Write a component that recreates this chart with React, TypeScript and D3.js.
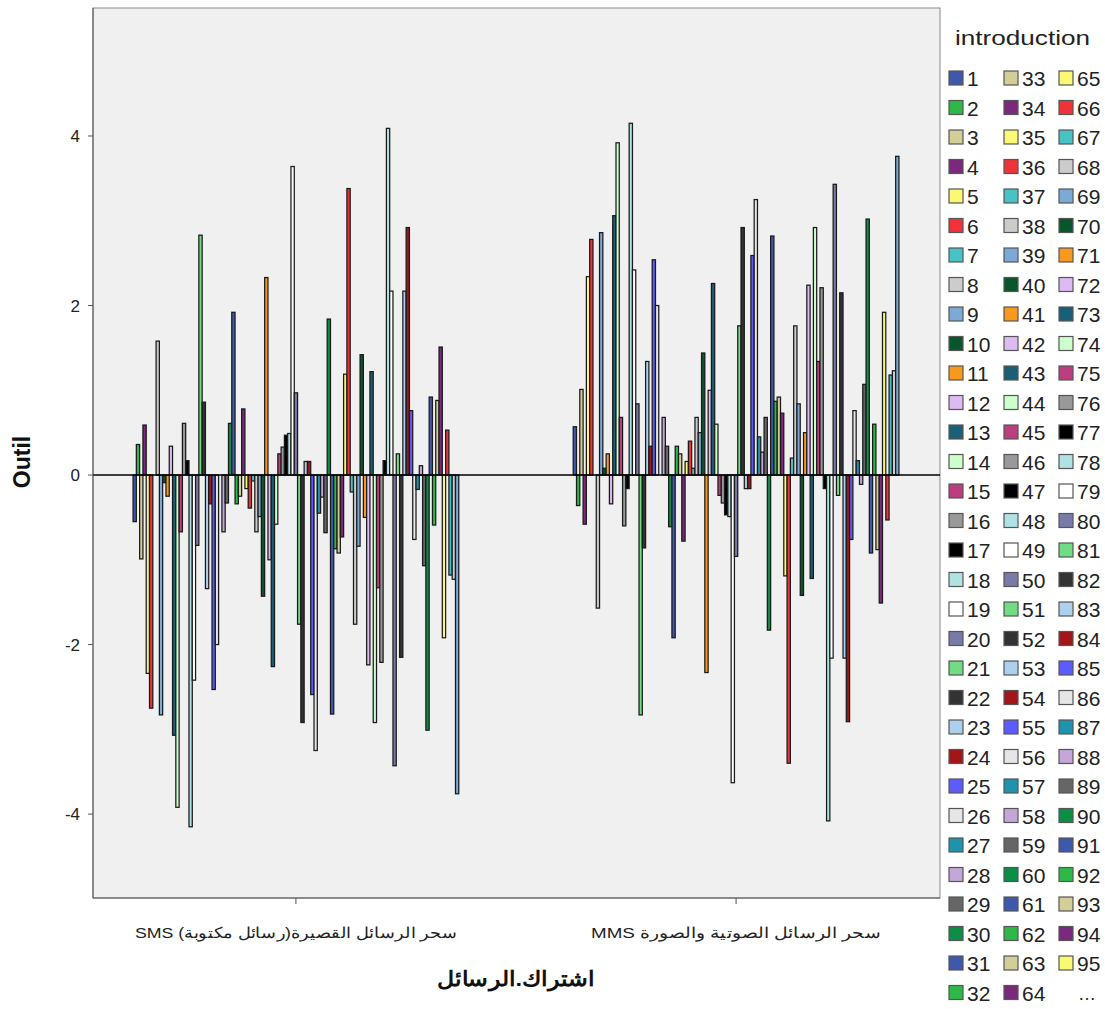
import React from "react";
import * as d3 from "d3";

const categories = [
  "سحر الرسائل القصيرة(رسائل مكتوبة) SMS",
  "سحر الرسائل الصوتية والصورة MMS",
];

const seriesIds = d3.range(1, 100).map(String);

const smsValues = [
  -0.55, 0.36, -0.99, 0.59, -2.34, -2.75, 0, 1.58, -2.83, -0.09,
  -0.25, 0.34, -3.07, -3.92, -0.67, 0.61, 0.17, -4.15, -2.42, -0.83,
  2.83, 0.86, -1.34, -0.34, -2.53, -2.0, 0, -0.67, -0.33, 0.61,
  1.92, -0.34, -0.25, 0.78, -0.16, -0.39, -0.07, -0.67, -0.49, -1.43,
  2.33, -1.0, -2.26, -0.58, 0.25, 0.33, 0.47, 0.49, 3.64, 0.97,
  -1.76, -2.92, 0.16, 0.16, -2.59, -3.25, -0.45, -0.26, -0.68, 1.84,
  -2.82, -0.87, -0.92, -0.73, 1.19, 3.38, -0.2, -1.76, -0.84, 1.42,
  -0.5, -2.24, 1.22, -2.92, -1.33, -2.21, 0.17, 4.09, 2.17, -3.43,
  0.25, -2.15, 2.17, 2.92, 0.76, -0.76, -0.17, 0.11, -1.07, -3.01,
  0.92, -0.59, 0.88, 1.51, -1.92, 0.53, -1.18, -1.23, -3.76,
];

const mmsValues = [
  0.57, -0.36, 1.01, -0.58, 2.34, 2.78, 0, -1.57, 2.86, 0.08,
  0.25, -0.34, 3.06, 3.92, 0.68, -0.6, -0.16, 4.15, 2.42, 0.84,
  -2.83, -0.86, 1.34, 0.34, 2.54, 2.0, 0, 0.68, 0.34, -0.61,
  -1.92, 0.34, 0.25, -0.78, 0.16, 0.4, 0.08, 0.68, 0.5, 1.44,
  -2.33, 1.0, 2.26, 0.6, -0.24, -0.33, -0.47, -0.49, -3.63, -0.96,
  1.76, 2.92, -0.16, -0.16, 2.59, 3.25, 0.45, 0.27, 0.68, -1.83,
  2.82, 0.87, 0.92, 0.73, -1.19, -3.4, 0.2, 1.76, 0.84, -1.42,
  0.5, 2.24, -1.22, 2.92, 1.34, 2.21, -0.16, -4.08, -2.16, 3.43,
  -0.24, 2.15, -2.16, -2.91, -0.76, 0.76, 0.17, -0.11, 1.07, 3.02,
  -0.92, 0.6, -0.88, -1.51, 1.92, -0.53, 1.18, 1.23, 3.76,
];

const palette = [
  "#3e58ac", "#2eb848", "#d3ce97", "#7c287d", "#fbf873", "#ef3338",
  "#48c2c5", "#cccccc", "#7aaad5", "#0a562c", "#f8981d", "#ddbaf1",
  "#1a5f76", "#ccffcc", "#bb3f7f", "#999999", "#000000", "#b0e2e4",
  "#ffffff", "#797aa7", "#70dc84", "#333333", "#acd0ee", "#a21619",
  "#5b5bff", "#e6e6e6", "#1f92ad", "#c4a7d8", "#666666", "#0c8e47",
];

const yTicks = [-4, -2, 0, 2, 4];
const legendTitle = "introduction";
const yTitle = "Outil";
const xTitle = "اشتراك.الرسائل";
const legendShown = d3.range(1, 96).map(String);

const W = 1105;
const H = 1009;
const M = { left: 93, right: 940, top: 8, bottom: 898 };
const FONT = "'Liberation Sans', Arial, sans-serif";
const catLabelWidths = [322, 290];

export default function App() {
  const data = [smsValues, mmsValues];
  const x = d3
    .scaleBand<string>()
    .domain(categories)
    .range([M.left, M.right - 1])
    .paddingInner(0.26)
    .paddingOuter(0.091);
  const xi = d3
    .scaleBand<string>()
    .domain(seriesIds)
    .range([0, x.bandwidth()])
    .padding(0);
  const y = d3.scaleLinear().domain([-4.99, 5.51]).range([M.bottom, M.top]);
  const color = (i: number) => palette[i % palette.length];

  const rowY = (r: number) => 78 + 29.5 * r;
  const colX = [948, 1003, 1058];

  return (
    <svg
      width={W}
      height={H}
      style={{ position: "absolute", left: 0, top: 0, background: "#fff" }}
      fontFamily={FONT}
    >
      <rect x={M.left} y={M.top} width={M.right - M.left} height={M.bottom - M.top} fill="#f0f0f0" stroke="#8a8a8a" strokeWidth={1} />
      {data.map((vals, ci) =>
        vals.map((v, si) => {
          const x0 = (x(categories[ci]) as number) + (xi(seriesIds[si]) as number);
          const y0 = y(Math.max(0, v));
          const h = Math.abs(y(v) - y(0));
          if (h < 0.01) return null;
          return (
            <rect
              key={ci + "-" + si}
              x={x0}
              y={y0}
              width={xi.bandwidth()}
              height={h}
              fill={color(si)}
              stroke="#1a1a1a"
              strokeWidth={1.25}
            />
          );
        })
      )}
      <line x1={M.left} x2={M.right} y1={y(0)} y2={y(0)} stroke="#000" strokeWidth={1.6} />
      <line x1={M.left} x2={M.left} y1={M.top} y2={M.bottom} stroke="#555" strokeWidth={1} />
      <line x1={M.left} x2={M.right} y1={M.bottom} y2={M.bottom} stroke="#555" strokeWidth={1} />
      {yTicks.map((t) => (
        <g key={t}>
          <line x1={M.left - 5} x2={M.left} y1={y(t)} y2={y(t)} stroke="#555" />
          <text x={M.left - 13} y={y(t) + 6} textAnchor="end" fontSize={17} fill="#222">
            {t}
          </text>
        </g>
      ))}
      {categories.map((c, i) => {
        const cx = (x(c) as number) + x.bandwidth() / 2;
        return (
          <g key={c}>
            <line x1={cx} x2={cx} y1={M.bottom} y2={M.bottom + 6} stroke="#555" />
            <text
              x={cx}
              y={938}
              textAnchor="middle"
              fontSize={15}
              fill="#222"
              direction="rtl"
              textLength={catLabelWidths[i]}
              lengthAdjust="spacingAndGlyphs"
            >
              {c}
            </text>
          </g>
        );
      })}
      <text
        transform={`translate(30, 462) rotate(-90)`}
        textAnchor="middle"
        fontSize={23}
        fontWeight="bold"
        fill="#111"
      >
        {yTitle}
      </text>
      <text
        x={516}
        y={986}
        textAnchor="middle"
        fontSize={21}
        fontWeight="bold"
        fill="#111"
        direction="rtl"
        textLength={158}
        lengthAdjust="spacingAndGlyphs"
      >
        {xTitle}
      </text>
      <text x={955} y={45} fontSize={21} fill="#222" textLength={135} lengthAdjust="spacingAndGlyphs">
        {legendTitle}
      </text>
      {legendShown.map((id, i) => {
        const col = Math.floor(i / 32);
        const row = i % 32;
        const cy = rowY(row);
        return (
          <g key={id}>
            <rect x={colX[col] + 1} y={cy - 7} width={14} height={14} fill={color(i)} stroke="#555" strokeWidth={1.2} />
            <text x={colX[col] + 19} y={cy + 8} fontSize={21} fill="#222">
              {id}
            </text>
          </g>
        );
      })}
      <text x={1078} y={1000} fontSize={18} fill="#222">
        …
      </text>
    </svg>
  );
}
